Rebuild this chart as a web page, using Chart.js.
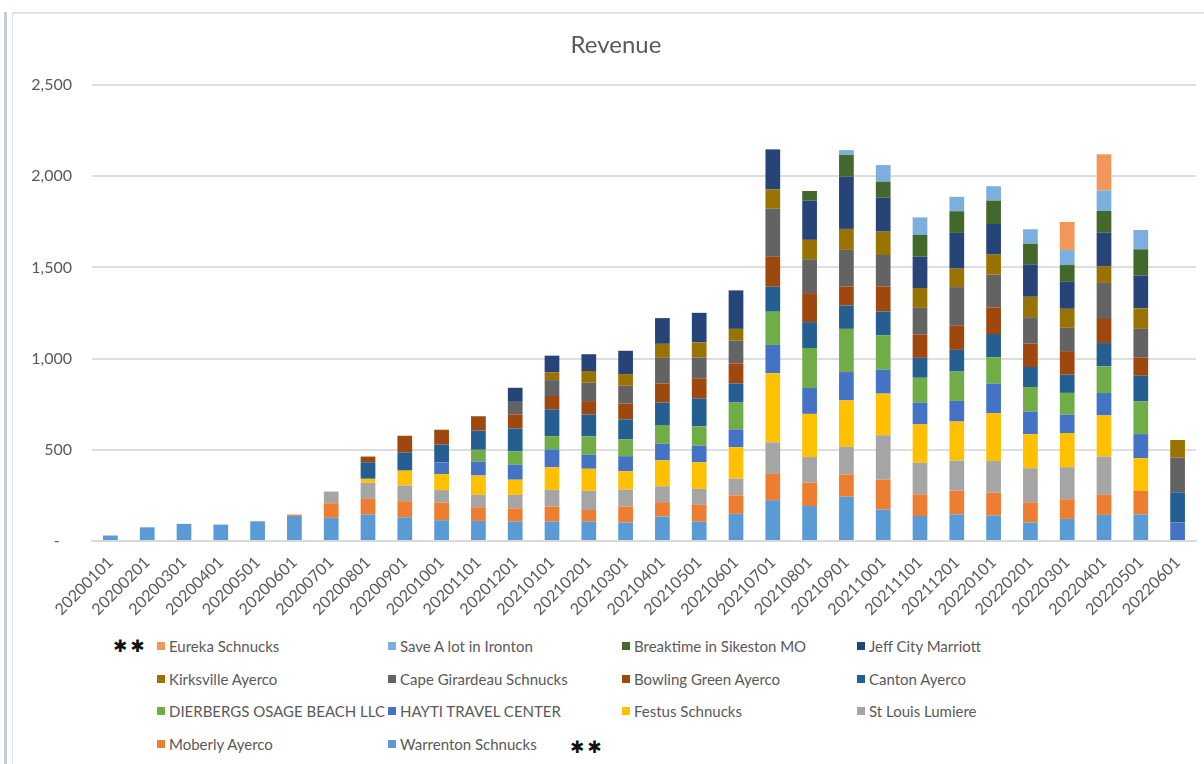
<!DOCTYPE html>
<html>
<head>
<meta charset="utf-8">
<title>Revenue</title>
<script src="https://cdn.jsdelivr.net/npm/chart.js@4/dist/chart.umd.min.js"></script>
<style>
  html, body { margin: 0; padding: 0; background: #fff; }
  body { width: 1204px; height: 764px; position: relative; overflow: hidden;
         font-family: Lato, "Liberation Sans", Arial, sans-serif; }
  #frameLeft { position: absolute; left: 4px; top: 12px; width: 3px; height: 752px; background: #c3cdda; }
  #frameInner { position: absolute; left: 12px; top: 12px; width: 1px; height: 752px; background: #e3e3e3; }
  #frameTop { position: absolute; left: 12px; top: 12px; right: 0; height: 2px; background: #e2e2e2; }
  #wrap { position: absolute; left: 0; top: 0; width: 1204px; height: 630px; }
  #legend { position: absolute; left: 157px; top: 630px;
            display: grid; grid-template-columns: 231px 234px 235px 200px;
            grid-auto-rows: 32.5px; align-items: center; }
  .item { display: flex; align-items: center; font-size: 15px; color: #595959; white-space: nowrap; }
  .box { width: 8px; height: 8px; margin-right: 4px; flex: none; }
  .mark { position: absolute; font-family: "DejaVu Sans", sans-serif; font-size: 17px; color: #111;
          letter-spacing: 3px; line-height: 1; }
</style>
</head>
<body>
<div id="frameLeft"></div>
<div id="frameInner"></div>
<div id="frameTop"></div>
<div id="wrap"><canvas id="chart" width="1204" height="630"></canvas></div>
<div id="legend"></div>
<span class="mark" style="left:113px; top:638px;">✱✱</span>
<span class="mark" style="left:570px; top:739px;">✱✱</span>
<script>
// Monthly periods
const months = ['20200101','20200201','20200301','20200401','20200501','20200601',
  '20200701','20200801','20200901','20201001','20201101','20201201',
  '20210101','20210201','20210301','20210401','20210501','20210601',
  '20210701','20210801','20210901','20211001','20211101','20211201',
  '20220101','20220201','20220301','20220401','20220501','20220601'];

// Revenue per location, one value per month (stacked bottom to top)
const warrentonSchnucks = [30,75,94,90,108,138,127,145,130,114,110,106,106,106,102,134,106,149,224,192,243,173,137,146,139,102,121,143,146,0];
const moberlyAyerco     = [0,0,0,0,0,7,80,86,88,97,75,73,83,64,87,79,92,101,144,128,122,164,119,130,126,110,108,110,130,0];
const stLouisLumiere    = [0,0,0,0,0,0,64,88,86,68,68,74,92,105,92,87,88,92,173,140,151,243,173,165,174,187,176,210,0,0];
const festusSchnucks    = [0,0,0,0,0,0,0,22,82,88,106,83,123,121,101,142,145,172,379,237,255,228,210,214,262,187,187,225,178,0];
const haytiTravel       = [0,0,0,0,0,0,0,0,0,64,77,83,98,77,83,91,92,98,155,142,155,131,119,113,161,124,101,123,132,102];
const dierbergsOsage    = [0,0,0,0,0,0,0,0,0,0,64,73,73,101,92,103,106,147,182,219,237,188,137,161,145,134,119,146,179,0];
const cantonAyerco      = [0,0,0,0,0,0,0,91,100,98,105,125,147,120,110,123,153,105,137,142,128,131,109,119,128,110,101,128,141,165];
const bowlingGreen      = [0,0,0,0,0,0,0,31,91,81,79,77,73,73,86,105,110,110,164,159,104,137,128,132,146,128,128,132,101,0];
const capeGirardeau     = [0,0,0,0,0,0,0,0,0,0,0,69,87,101,98,140,114,125,264,186,201,173,146,212,179,145,128,198,156,190];
const kirksvilleAyerco  = [0,0,0,0,0,0,0,0,0,0,0,0,42,64,64,77,83,64,106,106,115,128,109,101,110,112,104,92,112,97];
const jeffCityMarriott  = [0,0,0,0,0,0,0,0,0,0,0,77,92,92,128,141,162,211,219,215,286,186,173,196,168,178,148,183,181,0];
const breaktimeSikeston = [0,0,0,0,0,0,0,0,0,0,0,0,0,0,0,0,0,0,0,53,119,88,119,119,128,113,92,119,143,0];
const saveALotIronton   = [0,0,0,0,0,0,0,0,0,0,0,0,0,0,0,0,0,0,0,0,27,91,95,79,79,79,82,113,106,0];
const eurekaSchnucks    = [0,0,0,0,0,0,0,0,0,0,0,0,0,0,0,0,0,0,0,0,0,0,0,0,0,0,154,198,0,0];

// Value axis ticks
const yTicks = [0, 500, 1000, 1500, 2000, 2500];

const series = [
  { label: 'Warrenton Schnucks',        data: warrentonSchnucks, color: '#5B9BD5' },
  { label: 'Moberly Ayerco',            data: moberlyAyerco,     color: '#ED7D31' },
  { label: 'St Louis Lumiere',          data: stLouisLumiere,    color: '#A5A5A5' },
  { label: 'Festus Schnucks',           data: festusSchnucks,    color: '#FFC000' },
  { label: 'HAYTI TRAVEL CENTER',       data: haytiTravel,       color: '#4472C4' },
  { label: 'DIERBERGS OSAGE BEACH LLC', data: dierbergsOsage,    color: '#70AD47' },
  { label: 'Canton Ayerco',             data: cantonAyerco,      color: '#255E91' },
  { label: 'Bowling Green Ayerco',      data: bowlingGreen,      color: '#9E480E' },
  { label: 'Cape Girardeau Schnucks',   data: capeGirardeau,     color: '#636363' },
  { label: 'Kirksville Ayerco',         data: kirksvilleAyerco,  color: '#997300' },
  { label: 'Jeff City Marriott',        data: jeffCityMarriott,  color: '#264478' },
  { label: 'Breaktime in Sikeston MO',  data: breaktimeSikeston, color: '#43682B' },
  { label: 'Save A lot in Ironton',     data: saveALotIronton,   color: '#7CAFDD' },
  { label: 'Eureka Schnucks',           data: eurekaSchnucks,    color: '#F1975A' }
];

const TEXT = '#595959';
const FONT = 'Lato, "Liberation Sans", Arial, sans-serif';

// Legend rendered as HTML from the chart's datasets (top series first)
const htmlLegend = {
  id: 'htmlLegend',
  afterUpdate(chart) {
    const host = document.getElementById('legend');
    host.innerHTML = '';
    chart.data.datasets.slice().reverse().forEach(ds => {
      const item = document.createElement('div');
      item.className = 'item';
      const box = document.createElement('span');
      box.className = 'box';
      box.style.background = ds.backgroundColor;
      const txt = document.createElement('span');
      txt.textContent = ds.label;
      item.appendChild(box);
      item.appendChild(txt);
      host.appendChild(item);
    });
  }
};

// Chart heading, centred over the whole chart frame
const chartHeading = {
  id: 'chartHeading',
  afterDraw(chart, args, opts) {
    const ctx = chart.ctx;
    ctx.save();
    ctx.font = `normal ${opts.size}px ${FONT}`;
    ctx.fillStyle = TEXT;
    ctx.textAlign = 'center';
    ctx.textBaseline = 'middle';
    ctx.fillText(opts.text, opts.x, opts.y);
    ctx.restore();
  }
};

new Chart(document.getElementById('chart'), {
  type: 'bar',
  data: {
    labels: months,
    datasets: series.map(s => ({
      label: s.label,
      data: s.data,
      backgroundColor: s.color,
      borderWidth: 0,
      categoryPercentage: 1,
      barPercentage: 0.4
    }))
  },
  options: {
    responsive: false,
    animation: false,
    devicePixelRatio: 1,
    layout: { padding: { left: 0, right: 8, top: 85, bottom: 0 } },
    plugins: {
      legend: { display: false },
      tooltip: { enabled: false },
      title: { display: false },
      chartHeading: { text: 'Revenue', size: 24, x: 616, y: 45 }
    },
    scales: {
      x: {
        stacked: true,
        grid: { display: false },
        border: { display: true, color: '#d9d9d9', width: 2 },
        ticks: {
          color: TEXT,
          font: { family: FONT, size: 16 },
          maxRotation: 45,
          minRotation: 45,
          autoSkip: false,
          padding: 4
        },
        afterFit(scale) { scale.height = 630 - 541; }
      },
      y: {
        stacked: true,
        min: 0,
        max: 2500,
        afterBuildTicks(scale) { scale.ticks = yTicks.map(v => ({ value: v })); },
        grid: { color: '#dedede', lineWidth: 2, drawTicks: false },
        border: { display: false },
        ticks: {
          color: TEXT,
          font: { family: FONT, size: 16 },
          padding: 20,
          callback: v => v === 0 ? '-   ' : v.toLocaleString('en-US')
        },
        afterFit(scale) { scale.width = 92; }
      }
    }
  },
  plugins: [htmlLegend, chartHeading]
});
</script>
</body>
</html>
